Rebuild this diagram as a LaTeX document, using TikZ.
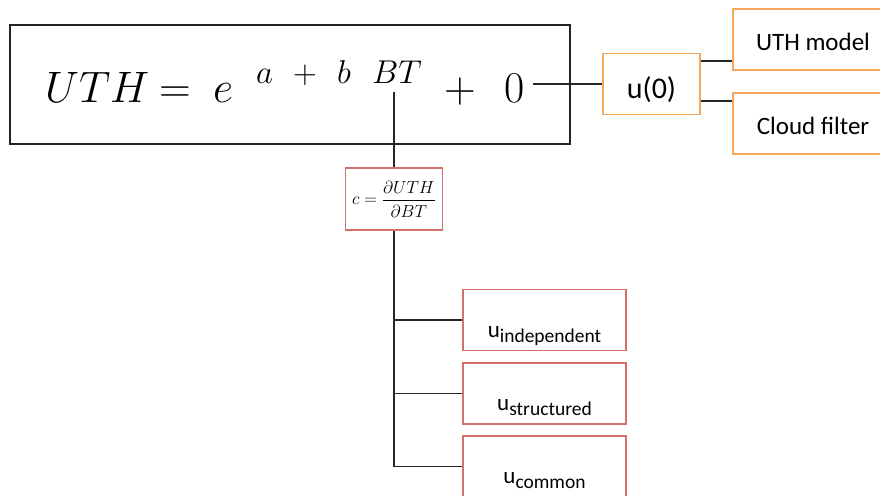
\RequirePackage{fix-cm}
\documentclass[tikz,border=0pt]{standalone}
\usepackage{fontspec}
\usepackage{amsmath}
\usepackage{graphicx}
\newfontfamily\carlito{Carlito}
\definecolor{boxorange}{RGB}{247,166,92}
\definecolor{boxred}{RGB}{214,110,108}
\definecolor{framegray}{RGB}{35,35,35}
\newcommand\lowr[2]{\raisebox{-#1}[0pt][0pt]{#2}}
\tikzset{
 obox/.style={draw=boxorange, line width=1.6pt, minimum height=61pt, inner sep=0pt, font=\carlito\fontsize{25}{28}\selectfont},
 rbox/.style={draw=boxred, line width=1.6pt, minimum width=163pt, minimum height=61pt, inner sep=0pt, font=\carlito\fontsize{23}{26}\selectfont},
 conn/.style={line width=1.8pt, black!85},
 eqbig/.style={inner sep=0pt, anchor=base west, font=\fontsize{44}{50}\selectfont},
 eqsup/.style={inner sep=0pt, anchor=base west, font=\fontsize{33}{36}\selectfont},
}
\begin{document}
\begin{tikzpicture}[x=1pt,y=-1pt]
\useasboundingbox (0,0) rectangle (880,495);
% main equation box
\node[draw=framegray, line width=1.8pt, minimum width=560pt, minimum height=119pt] (eqbox) at (290,84.5) {};
\node[eqbig] (uth) at (45,102) {$UTH$};
\node[eqbig] (eq) at (159,102) {$=$};
\node[eqbig] (e) at (213,102) {$e$};
\node[eqsup] (a) at (256,83) {$a$};
\node[eqsup] (p1) at (293,83) {$+$};
\node[eqsup] (b) at (337,83) {$b$};
\node[eqsup] (bt) at (372,83) {$BT$};
\node[eqbig] (p2) at (444,102) {$+$};
\node[eqbig] (zero) at (504,102) {$0$};
% uncertainty of offset
\node[obox, minimum width=97pt, font=\carlito\fontsize{30}{34}\selectfont] (u0) at (651.5,84) {\lowr{14pt}{u(0)}};
\node[obox, minimum width=160pt] (m1) at (813,39.5) {\lowr{11pt}{UTH model}};
\node[obox, minimum width=160pt] (m2) at (813,123.5) {\lowr{11pt}{Cloud filter}};
% sensitivity
\node[draw=boxred, line width=1.6pt, minimum width=97pt, minimum height=62pt, inner sep=0pt] (c) at (394,199)
  {\fontsize{17.5}{20}\selectfont $c=\dfrac{\partial UTH}{\partial BT}$};
\node[rbox] (b1) at (544.5,320) {\lowr{17pt}{u\raisebox{-5pt}{\fontsize{19.5}{22}\selectfont independent}}};
\node[rbox] (b2) at (544.5,393.5) {\lowr{17pt}{u\raisebox{-5pt}{\fontsize{19.5}{22}\selectfont structured}}};
\node[rbox] (b3) at (544.5,466.5) {\lowr{17pt}{u\raisebox{-5pt}{\fontsize{19.5}{22}\selectfont common}}};
% connectors
\draw[conn] ([xshift=8pt]zero.east |- u0.west) -- (u0.west);
\draw[conn] (u0.east |- 0,61) -- (m1.west |- 0,61);
\draw[conn] (u0.east |- 0,101) -- (m2.west |- 0,101);
\draw[conn] (c.north) -- ([yshift=-9pt]c.north |- bt.south);
\draw[conn] (c.south) |- (b3.west);
\draw[conn] (b1.west) -- (b1.west -| c.south);
\draw[conn] (b2.west) -- (b2.west -| c.south);
\end{tikzpicture}
\end{document}
